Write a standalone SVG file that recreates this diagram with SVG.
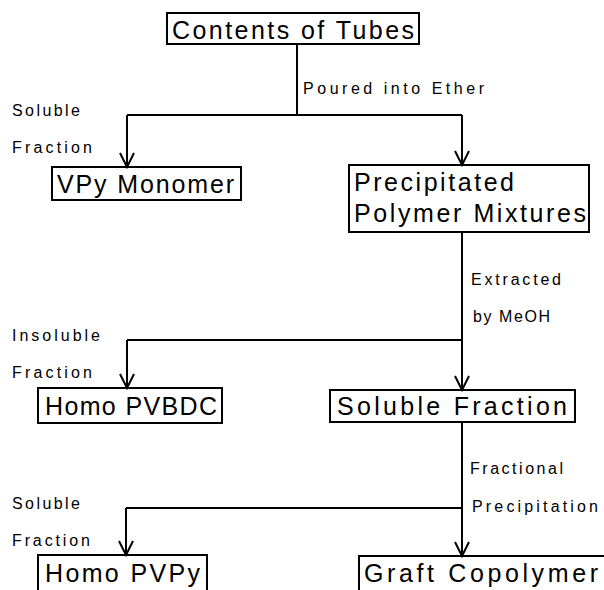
<svg xmlns="http://www.w3.org/2000/svg" width="604" height="590" viewBox="0 0 604 590">
<style>
.box{fill:none;stroke:#000;stroke-width:2}
.t{font-family:"Liberation Sans","DejaVu Sans",sans-serif;font-size:25px;fill:#000}
.s{font-family:"Liberation Sans","DejaVu Sans",sans-serif;font-size:16px;fill:#000}
.c{fill:none;stroke:#000;stroke-width:2}
</style>
<defs>
<marker id="v" markerUnits="userSpaceOnUse" markerWidth="20" markerHeight="20" viewBox="-16 -10 18 20" refX="0" refY="0" orient="auto">
<path d="M-14,-7 L0,0 L-14,7" fill="none" stroke="#000" stroke-width="2"/>
</marker>
</defs>
<rect width="604" height="590" fill="#fff"/>
<g id="connectors">
<path class="c" d="M297,44 V115"/>
<path class="c" d="M127,115 H462"/>
<path class="c" d="M127,115 V167" marker-end="url(#v)"/>
<path class="c" d="M462,115 V165" marker-end="url(#v)"/>
<path class="c" d="M462,232 V390" marker-end="url(#v)"/>
<path class="c" d="M127,340 H462"/>
<path class="c" d="M127,340 V388" marker-end="url(#v)"/>
<path class="c" d="M462,422 V556" marker-end="url(#v)"/>
<path class="c" d="M126,508 H462"/>
<path class="c" d="M126,508 V555" marker-end="url(#v)"/>
</g>
<g id="labels">
<text class="s" x="303" y="94" textLength="181" lengthAdjust="spacing">Poured into Ether</text>
<text class="s" x="12" y="116" textLength="68" lengthAdjust="spacing">Soluble</text>
<text class="s" x="12" y="153" textLength="80" lengthAdjust="spacing">Fraction</text>
<text class="s" x="471" y="285" textLength="90" lengthAdjust="spacing">Extracted</text>
<text class="s" x="473" y="322" textLength="77" lengthAdjust="spacing">by MeOH</text>
<text class="s" x="12" y="341" textLength="88" lengthAdjust="spacing">Insoluble</text>
<text class="s" x="12" y="378" textLength="80" lengthAdjust="spacing">Fraction</text>
<text class="s" x="470" y="474" textLength="93" lengthAdjust="spacing">Fractional</text>
<text class="s" x="472" y="512" textLength="126" lengthAdjust="spacing">Precipitation</text>
<text class="s" x="12" y="509" textLength="68" lengthAdjust="spacing">Soluble</text>
<text class="s" x="12" y="546" textLength="78" lengthAdjust="spacing">Fraction</text>
</g>
<g id="contents">
<rect class="box" x="167" y="13" width="252" height="31"/>
<text class="t" x="172" y="39" textLength="242" lengthAdjust="spacing">Contents of Tubes</text>
</g>
<g id="vpy">
<rect class="box" x="52" y="167" width="189" height="33"/>
<text class="t" x="57" y="193" textLength="177" lengthAdjust="spacing">VPy Monomer</text>
</g>
<g id="precipitated">
<rect class="box" x="349" y="165" width="240" height="67"/>
<text class="t" x="354" y="191" textLength="160" lengthAdjust="spacing">Precipitated</text>
<text class="t" x="354" y="222" textLength="232" lengthAdjust="spacing">Polymer Mixtures</text>
</g>
<g id="pvbdc">
<rect class="box" x="38" y="388" width="184" height="35"/>
<text class="t" x="45" y="415" textLength="172" lengthAdjust="spacing">Homo PVBDC</text>
</g>
<g id="solfrac">
<rect class="box" x="330" y="390" width="245" height="32"/>
<text class="t" x="337" y="415" textLength="230" lengthAdjust="spacing">Soluble  Fraction</text>
</g>
<g id="pvpy">
<rect class="box" x="38" y="555" width="169" height="45"/>
<text class="t" x="45" y="582" textLength="155" lengthAdjust="spacing">Homo PVPy</text>
</g>
<g id="graft">
<rect class="box" x="359" y="556" width="250" height="45"/>
<text class="t" x="364" y="582" textLength="234" lengthAdjust="spacing">Graft Copolymer</text>
</g>
</svg>
